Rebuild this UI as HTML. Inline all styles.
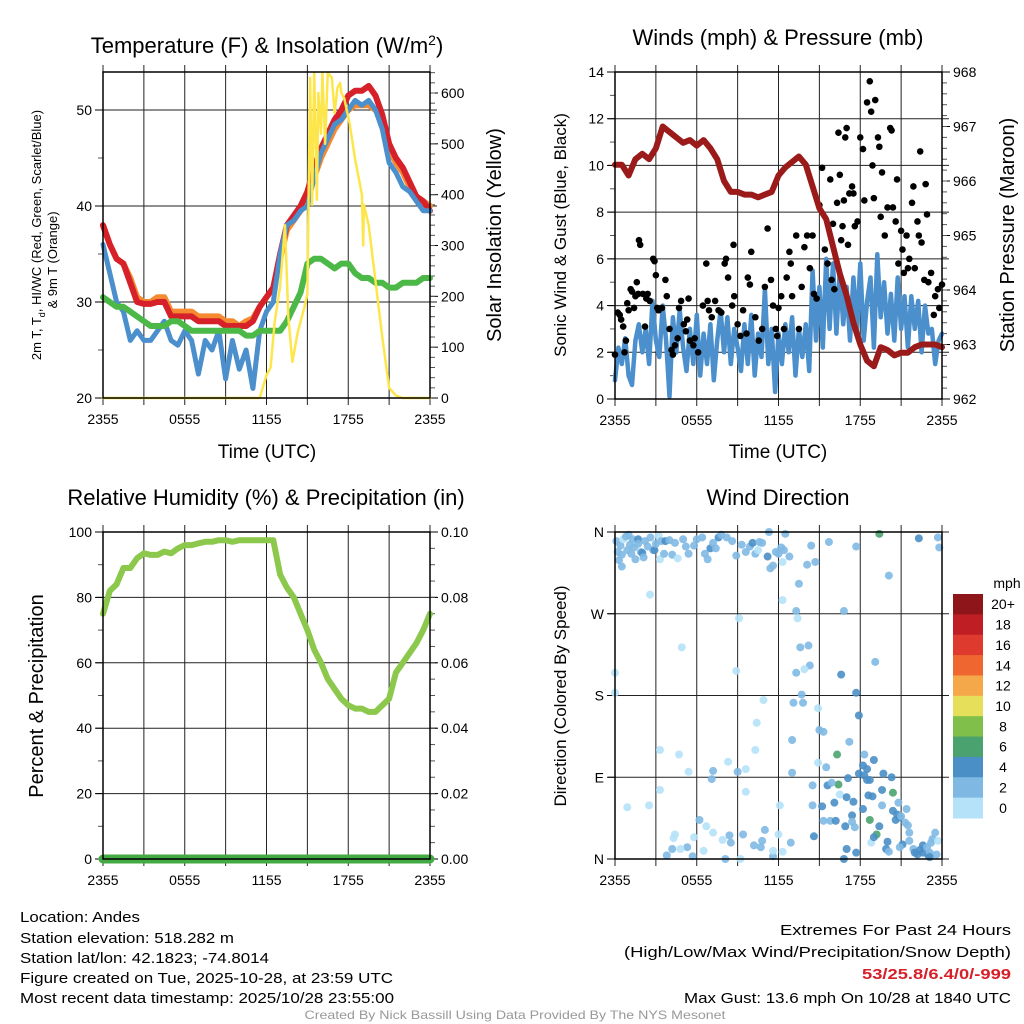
<!DOCTYPE html>
<html><head><meta charset="utf-8">
<style>
html,body{margin:0;padding:0;background:#fff;}
svg{display:block;font-family:"Liberation Sans",sans-serif;}
</style></head>
<body>
<svg id="fig" width="1024" height="1024" viewBox="0 0 1024 1024"></svg>
<script>
// ---------- DATA ----------
const tempRed=[38,36,34.5,34,32,30,29.8,29.8,30,30,28.5,28.5,28.5,28.5,28,28,28,28,27.5,27.5,27.5,27.5,28,29.5,30.5,31.5,35,38,39,40,41.5,44,46,47.5,49,50,51.5,52,52,52.5,51.5,49.5,46.5,45,44,42.5,41,40.5,39.5];
const tempOrange=[38,36,34.5,34,32.5,30.5,30,30,30.5,30.5,29,29,29,29,28.5,28.5,28.5,28.5,28,28,27.5,28,28.3,29.5,30.5,31.5,34.5,37.5,38.5,39.5,40.5,43,45,46.5,48,49,50,50.5,50.5,50.5,50,49,46,44.5,43.5,42,41,40.5,40];
const tempBlue=[36,33,30,29,26,27,26,26,27,28,26,25.5,27,26,22.5,26,25,27,22,26,23,25,21,27,29,30,35,38,38.5,39.5,40,43,45.5,47,48.5,49,50,51,50.5,51,50,48,44.5,43.5,42,41.5,40.5,39.5,39.5];
const tempGreen=[30.5,30,29.5,29.5,29,28.5,28,27.5,27.5,27.5,28,28,27.5,27,27,27,27,27,27,27,27,26.5,26.5,27,27,27,27,28,29.5,31,34,34.5,34.5,34,33.5,34,34,33,32.5,32.5,32,32,31.5,31.5,32,32,32,32.5,32.5];
const solarT=[0,11.5,12,12.3,12.6,13.0,13.36,13.6,13.9,14.3,14.8,15.0,15.2,15.35,15.5,15.7,15.8,16.0,16.1,16.3,16.5,16.8,17.0,17.2,17.4,17.5,17.7,18.1,18.5,19.0,19.1,19.15,19.5,20.0,20.5,21.0,21.5,22.0,24];
const solarV=[0,0,45,60,150,220,340,160,71,130,180,205,630,380,640,390,600,520,640,500,640,630,560,610,620,600,590,540,470,400,300,380,340,230,120,20,5,0,0];
const pressure=[966.3,966.3,966.1,966.4,966.5,966.4,966.6,967.0,966.9,966.8,966.7,966.75,966.65,966.75,966.6,966.4,966.0,965.8,965.8,965.75,965.75,965.7,965.75,965.8,966.1,966.25,966.35,966.45,966.3,965.9,965.5,965.3,964.8,964.3,963.9,963.4,963.0,962.7,962.6,962.95,962.9,962.8,962.85,962.85,962.95,963.0,963.0,963.0,962.95];
const sonicWind=[0.8,2.2,1.5,2.6,1.0,0.6,2.5,3.2,2.0,3.0,1.5,4.2,2.5,1.8,4.0,2.5,0.1,
3.5,2.0,3.8,2.2,1.2,3.0,1.5,3.6,1.0,2.8,1.5,3.2,0.8,2.5,3.8,2.0,
3.5,1.5,3.0,2.2,1.2,3.2,1.5,3.6,1.0,2.8,1.8,4.7,1.5,3.0,0.3,2.8,
1.5,3.2,2.0,3.5,1.0,3.0,1.8,3.2,1.2,5.5,2.5,4.8,2.2,6.0,3.0,5.8,
2.8,5.5,3.2,4.8,2.5,5.2,3.0,5.8,2.5,4.2,5.2,2.2,6.2,3.5,5.0,2.8,
4.5,2.5,5.2,3.0,4.4,2.2,4.4,3.0,4.2,2.0,4.0,2.8,3.0,1.5,2.5,2.8];
const gusts=[[0,1.9],[0.2,3.7],[0.35,3.6],[0.45,3.4],[0.6,3.1],[0.7,2],[0.8,2.5],[0.9,4.1],[1.0,3.8],[1.15,4.7],[1.25,4.6],[1.4,3.9],[1.5,4.4],[1.6,5],[1.7,4.5],[1.76,6.8],[1.85,6.6],[2.05,4.5],[2.2,3.1],[2.3,4.3],[2.4,4.5],[2.55,4.2],[2.8,6],[2.9,5.9],[3.0,5.3],[3.1,3.9],[3.2,3.8],[3.45,3.9],[3.7,5.1],[3.8,4.4],[4.0,3.0],[4.15,2.1],[4.25,1.9],[4.4,2.3],[4.6,2.6],[4.7,3.9],[4.85,4.2],[5.05,3.2],[5.2,2.9],[5.3,3.4],[5.4,4.3],[5.5,2.5],[5.75,2.3],[5.85,2.6],[6.1,2.0],[6.45,4.0],[6.7,5.8],[6.8,4.2],[6.9,3.8],[7.1,3.5],[7.35,4.2],[7.6,3.8],[7.8,3.7],[8.05,5.8],[8.15,6.0],[8.3,5.2],[8.7,6.6],[8.6,4.0],[8.75,4.4],[9.0,3.2],[9.2,2.7],[9.4,3.8],[9.65,2.8],[9.75,5.2],[9.9,4.9],[10.0,6.3],[10.3,3.5],[10.55,2.5],[10.8,3.0],[11.0,4.8],[11.2,7.3],[11.45,5.1],[11.6,4.0],[11.8,3.0],[11.9,2.7],[12.0,3.9],[12.2,4.4],[12.4,3.0],[12.6,5.2],[12.8,6.3],[12.9,5.8],[13.0,4.4],[13.3,7.0],[13.5,3.0],[13.7,4.8],[13.9,6.5],[14.1,7.0],[14.3,5.6],[14.5,7.0],[14.6,4.5],[14.8,4.3],[15.0,8.3],[15.2,9.9],[15.4,6.4],[15.6,5.8],[15.8,9.4],[15.9,5.1],[16.0,7.5],[16.1,4.7],[16.3,8.4],[16.4,11.4],[16.5,9.6],[16.6,6.8],[16.7,7.4],[16.8,8.5],[16.9,11.2],[17.0,11.6],[17.1,6.6],[17.2,8.8],[17.4,9.1],[17.5,8.8],[17.6,7.4],[17.8,7.6],[18.0,11.2],[18.2,10.7],[18.3,8.5],[18.5,12.7],[18.7,13.6],[18.8,12.3],[18.9,10.0],[19.0,8.6],[19.1,12.8],[19.3,11.2],[19.4,10.8],[19.5,7.8],[19.6,9.7],[19.8,7.0],[20.0,8.2],[20.2,11.6],[20.3,11.5],[20.4,8.2],[20.6,7.6],[20.7,9.4],[20.8,5.8],[21.0,7.2],[21.1,6.4],[21.2,5.4],[21.4,7.0],[21.5,5.6],[21.6,6.0],[21.8,8.4],[21.9,9.1],[22.0,5.6],[22.2,7.6],[22.3,7.0],[22.4,10.6],[22.5,6.7],[22.7,5.1],[22.8,9.2],[22.9,7.9],[23.0,5.0],[23.2,5.4],[23.4,3.6],[23.5,4.4],[23.7,4.7],[23.8,3.9],[24.0,4.9]];
const rh=[75,82,84,89,89,92,93.5,93,93,94,93.5,95,96,96,96.5,97,97,97.5,97.5,97,97.5,97.5,97.5,97.5,97.5,97.5,87,83,80,75,70,64,60,55,52,49,47,46,46,45,45,47,49,57,60,63,66,70,75];
const precip=[0,0,0,0,0,0,0,0,0,0,0,0,0,0,0,0,0,0,0,0,0,0,0,0,0];
const windDir=[[0.1,350,3],[0.2,338,3],[0.3,329,3],[0.4,345,3],[0.5,335,3],[0.5,322,3],[0.6,352,1],[0.8,355,3],[0.9,340,3],[1.0,357,3],[1.1,346,3],[1.2,336,3],[1.3,352,3],[1.4,343,3],[1.5,330,3],[1.7,352,5],[1.7,347,3],[1.9,338,3],[2.0,337,5],[2.1,332,3],[2.2,350,3],[2.4,344,3],[2.6,354,3],[2.8,340,3],[2.9,340,5],[3.0,347,3],[3.2,356,1],[3.3,330,1],[3.4,350,3],[3.6,336,3],[3.7,350,5],[4.0,351,3],[4.2,335,3],[4.4,348,3],[4.6,331,1],[5.0,352,3],[5.2,344,3],[5.4,336,3],[5.8,345,3],[6.0,352,3],[6.4,354,3],[6.6,336,3],[6.8,330,3],[7.0,342,5],[7.2,348,3],[7.4,342,3],[7.6,354,5],[7.8,357,3],[8.2,354,3],[8.6,350,3],[8.9,334,3],[9.3,346,3],[9.6,338,3],[9.9,344,3],[10.1,348,5],[10.3,336,3],[10.5,340,1],[10.6,349,3],[10.8,348,3],[11.2,333,5],[11.3,360,3],[11.4,320,3],[11.6,323,3],[11.8,338,3],[12.0,336,3],[12.2,343,3],[12.3,327,1],[12.4,340,3],[12.5,358,3],[12.8,333,3],
[2.57,291,1],[4.9,233,1],[9.1,265,1],[8.9,207,1],[0,205,1],[0,183,1],[12.3,285,1],[13.5,303,3],[13.3,273,3],[13.4,265,1],[13.6,233,3],[14.2,235,3],[14.3,213,3],[13.9,209,1],[13.3,205,3],[13.7,181,3],[13.1,172,3],[13.8,172,3],[14.9,166,1],[10.9,175,1],[10.4,150,1],[10.3,120,1],[15.0,142,3],[15.3,140,3],[13.0,131,3],[17.2,129,3],[16.6,203,5],[17.7,183,5],[17.9,158,5],[16.8,273,3],[19.1,217,3],[17.7,344,3],[20.1,312,3],[22.3,353,5],[19.4,358,7],[23.7,354,3],[23.8,343,3],[15.7,349,3],[14.4,345,3],[14.1,324,3],[14.7,327,3],[16.3,115,7],[16.4,82,7],[20.4,73,7],[18.7,43,7],[19.2,27,7],
[3.3,120,1],[4.7,115,1],[5.4,96,1],[3.3,76,1],[0.9,57,1],[2.5,59,1],[8.3,107,1],[9.6,99,1],[9.6,74,1],[7.2,97,3],[7.1,88,3],[9.0,96,3],[13.0,95,3],[12.1,59,1],[6.2,43,3],[6.7,36,1],[7.2,29,1],[4.4,27,1],[4.3,23,1],[4.2,11,3],[3.8,4,3],[5.3,13,3],[4.8,11,1],[5.8,24,1],[5.7,3,3],[6.5,9,1],[8.1,0,3],[8.4,26,3],[8.5,18,3],[7.9,21,1],[9.4,27,3],[9.2,0,1],[10.2,15,3],[10.7,13,3],[10.8,20,3],[11.0,32,3],[11.6,3,3],[11.6,9,1],[12.3,8,1],[12.0,27,1],[12.9,18,3],[14.5,59,3],[14.5,81,3],[14.6,25,5],[14.9,106,1],[15.5,101,3],[15.2,58,5],[15.3,42,3],[15.6,81,5],[15.8,42,3],[15.9,84,3],[16.1,62,5],[16.2,42,5],[16.5,71,1],[16.9,36,5],[17.0,68,5],[17.1,89,5],[17.4,48,5],[17.5,63,5],[17.4,41,3],[17.6,35,3],[17.0,11,5],[17.7,7,5],[16.8,0,5],[17.9,94,5],[18.2,103,5],[18.3,115,3],[18.5,99,5],[18.3,92,5],[18.5,87,5],[18.7,87,5],[18.6,70,5],[18.9,69,5],[19.0,109,5],[18.2,55,5],[18.8,18,1],[19.0,24,5],[19.4,36,5],[19.6,59,3],[19.6,76,5],[19.7,94,5],[20.0,19,5],[19.9,11,5],[20.1,8,3],[20.3,90,5],[20.4,53,5],[20.6,43,5],[20.7,49,5],[20.8,62,3],[20.9,46,5],[21.0,47,3],[21.4,55,3],[21.3,40,3],[21.5,37,3],[21.6,29,3],[21.6,20,3],[21.1,16,5],[20.9,13,3],[21.9,11,3],[22.0,7,5],[22.2,5,5],[22.4,10,5],[22.6,15,5],[22.6,7,5],[22.9,13,3],[23.0,4,5],[23.1,7,3],[23.2,18,3],[23.3,22,3],[23.5,29,3],[23.6,5,3],[23.7,20,1],[23.1,2,5]];
const timeLabels=["2355","0555","1155","1755","2355"];
const speedBins=["0","2","4","6","8","10","12","14","16","18","20+"];
const speedColors=["#b5e2f8","#7fb9e3","#4a8fc6","#4aa36f","#7fbf4a","#e5df5a","#f5a84a","#ef6630","#df3a2e","#c01e25","#8e1519"];

// ---------- HELPERS ----------
const NS="http://www.w3.org/2000/svg";
const svg=document.getElementById('fig');
function mk(tag,attrs,parent){const e=document.createElementNS(NS,tag);for(const k in attrs)e.setAttribute(k,attrs[k]);(parent||svg).appendChild(e);return e;}
function txt(s,x,y,size,anchor,parent,extra){const e=mk('text',Object.assign({x:x,y:y,'font-size':size,'text-anchor':anchor||'start',fill:'#000'},extra||{}),parent);e.textContent=s;return e;}
function lin(lo,hi,plo,phi){return v=>plo+(v-lo)/(hi-lo)*(phi-plo);}
function series(n){const a=[];for(let i=0;i<n;i++)a.push(i*24/(n-1));return a;}

function frame(g,L,R,T,B){
  const X=lin(0,24,L,R);
  for(let h=0;h<=24;h+=3){
    const l=mk('line',{x1:X(h),x2:X(h),y1:T-7,y2:B+7,stroke:'#222','stroke-width':1},g);
    
    
  }
  for(let i=0;i<timeLabels.length;i++){
    const t=txt(timeLabels[i],X(i*6),B+26,14,'middle',g);
    
    
  }
  return X;
}
function box(g,L,R,T,B){
  const r=mk('rect',{x:L,y:T,width:R-L,height:B-T,fill:'none',stroke:'#000','stroke-width':1.5},g);
  
  
}
function yAxis(g,side,scale,majors,labels,minors,L,R,grid){
  const x0=side==='left'?L:R, dir=side==='left'?-1:1;
  majors.forEach((v,i)=>{
    const y=scale(v);
    if(grid){const gl=mk('line',{x1:L-7,x2:R+7,y1:y,y2:y,stroke:'#222','stroke-width':1},g);
      }
    mk('line',{x1:x0,x2:x0+dir*8,y1:y,y2:y,stroke:'#000','stroke-width':1},g);
    const t=txt(labels[i],side==='left'?L-11:R+11,y+5,14,side==='left'?'end':'start',g);
    
    
  });
  minors.forEach(v=>{const y=scale(v);mk('line',{x1:x0,x2:x0+dir*5,y1:y,y2:y,stroke:'#555','stroke-width':1},g);});
}
function poly(g,xs,ys,X,Y,color,w,name){
  const pts=xs.map((x,i)=>X(x).toFixed(1)+','+Y(ys[i]).toFixed(1)).join(' ');
  const p=mk('polyline',{points:pts,fill:'none',stroke:color,'stroke-width':w,'stroke-linejoin':'round','stroke-linecap':'round'},g);
  
  
  return p;
}
function range(a,b,s){const r=[];for(let v=a;v<=b+1e-9;v+=s)r.push(+v.toFixed(4));return r;}

// ---------- PANEL 1: Temperature ----------
{
const g=mk('g',{});


const L=103,R=430,T=72,B=398;
const X=frame(g,L,R,T,B);
const Y=lin(20,20+(B-T)/9.6,B,T);
const YS=lin(0,600,398,93);
yAxis(g,'left',Y,[20,30,40,50],['20','30','40','50'],[25,35,45],L,R,true);
yAxis(g,'right',YS,[0,100,200,300,400,500,600],['0','100','200','300','400','500','600'],range(20,640,20),L,R,false);
const ts=series(tempRed.length);
poly(g,ts,tempOrange,X,Y,'#f58a30',6,'orange-9m-temp-line');
poly(g,ts,tempRed,X,Y,'#d6202a',6,'red-2m-temp-line');
poly(g,series(tempBlue.length),tempBlue,X,Y,'#4b8fcc',5,'blue-windchill-line');
poly(g,series(tempGreen.length),tempGreen,X,Y,'#4cb847',6,'green-dewpoint-line');
poly(g,solarT,solarV,X,YS,'#fde64b',2.5,'yellow-solar-line');
box(g,L,R,T,B);
const tt=txt('',267,53,22,'middle',g);
tt.innerHTML='Temperature (F) &amp; Insolation (W/m<tspan dy="-8" font-size="14">2</tspan><tspan dy="8">)</tspan>';


const xt=txt('Time (UTC)',267,458,19,'middle',g);


const rt=txt('Solar Insolation (Yellow)',0,0,20,'middle',g,{transform:'translate(501,235) rotate(-90)'});


const l1=txt('',0,0,13,'middle',g,{transform:'translate(41,235) rotate(-90)'});
l1.innerHTML='2m T, T<tspan dy="4" font-size="9">d</tspan><tspan dy="-4">, HI/WC (Red, Green, Scarlet/Blue)</tspan>';


const l2=txt('& 9m T (Orange)',0,0,13,'middle',g,{transform:'translate(57,260) rotate(-90)'});


}

// ---------- PANEL 2: Winds ----------
{
const g=mk('g',{});


const L=615,R=942,T=72,B=399;
const X=frame(g,L,R,T,B);
const Y=lin(0,14,B,T);
const YP=lin(962,968,B,T);
yAxis(g,'left',Y,[0,2,4,6,8,10,12,14],['0','2','4','6','8','10','12','14'],range(1,13,2),L,R,true);
yAxis(g,'right',YP,[962,963,964,965,966,967,968],['962','963','964','965','966','967','968'],range(962.2,967.8,0.2),L,R,false);
poly(g,series(sonicWind.length),sonicWind,X,Y,'#4b8fcc',4.5,'sonic-wind-line');
gusts.forEach(p=>{
  const c=mk('circle',{cx:X(p[0]),cy:Y(p[1]),r:3.3,fill:'#000'},g);
  
  
});
poly(g,series(pressure.length),pressure,X,YP,'#9b1b1b',6,'pressure-line');
box(g,L,R,T,B);
const tt=txt('Winds (mph) & Pressure (mb)',778,45,22,'middle',g);


const xt=txt('Time (UTC)',778,458,19,'middle',g);


const lt=txt('Sonic Wind & Gust (Blue, Black)',0,0,17,'middle',g,{transform:'translate(566,235) rotate(-90)'});


const rt=txt('Station Pressure (Maroon)',0,0,20,'middle',g,{transform:'translate(1014,235) rotate(-90)'});


}

// ---------- PANEL 3: RH ----------
{
const g=mk('g',{});


const L=103,R=430,T=532,B=859;
const X=frame(g,L,R,T,B);
const Y=lin(0,100,B,T);
const YR=lin(0,0.1,B,T);
yAxis(g,'left',Y,[0,20,40,60,80,100],['0','20','40','60','80','100'],range(10,90,20),L,R,true);
yAxis(g,'right',YR,[0,0.02,0.04,0.06,0.08,0.1],['0.00','0.02','0.04','0.06','0.08','0.10'],range(0.005,0.095,0.005),L,R,false);
poly(g,series(rh.length),rh,X,Y,'#8cc84b',6,'rh-line');
poly(g,series(precip.length),precip,X,YR,'#44aa44',9,'precip-line');
box(g,L,R,T,B);
const tt=txt('Relative Humidity (%) & Precipitation (in)',266,505,22,'middle',g);


const lt=txt('Percent & Precipitation',0,0,20,'middle',g,{transform:'translate(43,696) rotate(-90)'});


}

// ---------- PANEL 4: Wind Direction ----------
{
const g=mk('g',{});


const L=615,R=942,T=532,B=859;
const X=frame(g,L,R,T,B);
const Y=lin(0,360,B,T);
yAxis(g,'left',Y,[0,90,180,270,360],['N','E','S','W','N'],[],L,R,true);
windDir.forEach(p=>{
  const bin=Math.min(10,Math.floor(p[2]/2));
  const c=mk('circle',{cx:X(p[0]),cy:Y(p[1]),r:4,fill:speedColors[bin],'fill-opacity':0.9},g);
  
  
});
box(g,L,R,T,B);
const tt=txt('Wind Direction',778,505,22,'middle',g);


const lt=txt('Direction (Colored By Speed)',0,0,17,'middle',g,{transform:'translate(566,696) rotate(-90)'});


const lg=mk('g',{},g);


const ut=txt('mph',1007,588,14,'middle',lg);


const top=594,h=(818-594)/speedBins.length;
for(let i=0;i<speedBins.length;i++){
  const k=speedBins.length-1-i;
  const r=mk('rect',{x:953,y:top+i*h,width:30,height:h+0.5,fill:speedColors[k]},lg);
  
  
  const t=txt(speedBins[k],1003,top+i*h+h/2+5,14,'middle',lg);
  
  
}
}

// ---------- FOOTER TEXT ----------
function ftxt(s,x,y,len,anchor,name,extra){
  const t=txt(s,x,y,15,anchor,svg,Object.assign({textLength:len,lengthAdjust:'spacingAndGlyphs'},extra||{}));
  
  
}
ftxt('Location: Andes',20,922,120,'start','location-text');
ftxt('Station elevation: 518.282 m',20,943,214,'start','elevation-text');
ftxt('Station lat/lon: 42.1823; -74.8014',20,963,249,'start','latlon-text');
ftxt('Figure created on Tue, 2025-10-28, at 23:59 UTC',20,983,373,'start','created-text');
ftxt('Most recent data timestamp: 2025/10/28 23:55:00',20,1003,374,'start','timestamp-text');
ftxt('Extremes For Past 24 Hours',1011,935,231,'end','extremes-title');
ftxt('(High/Low/Max Wind/Precipitation/Snow Depth)',1011,957,387,'end','extremes-subtitle');
ftxt('53/25.8/6.4/0/-999',1011,979,149,'end','extremes-values',{fill:'#d6202a','font-weight':'bold'});
ftxt('Max Gust: 13.6 mph On 10/28 at 1840 UTC',1011,1003,327,'end','max-gust-text');
const cr=txt('Created By Nick Bassill Using Data Provided By The NYS Mesonet',515,1019,12,'middle',svg,{fill:'#999',textLength:421,lengthAdjust:'spacingAndGlyphs'});


</script>
</body></html>
